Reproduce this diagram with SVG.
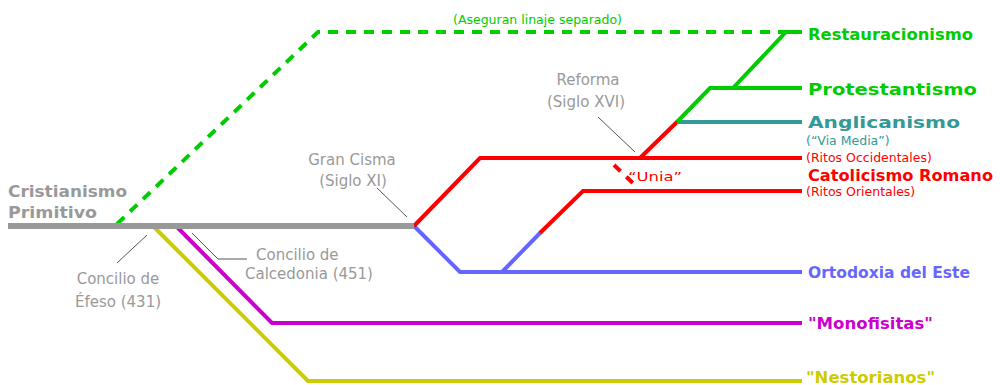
<svg xmlns="http://www.w3.org/2000/svg" width="1000" height="385" viewBox="0 0 1000 385">
<style>
.ln{fill:none;stroke-width:4;stroke-linejoin:miter;stroke-linecap:butt}
.ld{fill:none;stroke:#555;stroke-width:1}
.t{font-family:"DejaVu Sans",Verdana,sans-serif;font-size:15px;fill:#999}
.s{font-family:"DejaVu Sans",Verdana,sans-serif;font-size:12.5px}
.b{font-family:"DejaVu Sans",Verdana,sans-serif;font-size:16px;font-weight:bold}
</style>
<rect width="1000" height="385" fill="#fff"/>
<g id="connectors">
<polyline class="ln" stroke="#00cc00" stroke-dasharray="10,8" points="117,224 318,32 786,32"/>
<polyline class="ln" stroke="#cccc00" points="153,226 308,381 802,381"/>
<polyline class="ln" stroke="#cc00cc" points="176,226 272,323 802,323"/>
<polyline class="ln" stroke="#6666ff" points="414,226 460,272 802,272"/>
<polyline class="ln" stroke="#6666ff" points="502,272 541,232"/>
<polyline class="ln" stroke="#ff0000" points="540,233 583,191 802,191"/>
<polyline class="ln" stroke="#ff0000" points="414,226 480,158 802,158"/>
<polyline class="ln" stroke="#ff0000" points="640,158 678,121"/>
<polyline class="ln" stroke="#339999" points="677,122 802,122"/>
<polyline class="ln" stroke="#00cc00" points="677,122 710,88 802,88"/>
<polyline class="ln" stroke="#00cc00" points="733,88 786,32 802,32"/>
<line x1="8" y1="226" x2="414" y2="226" stroke="#999999" stroke-width="6"/>
<line class="ln" stroke="#ff0000" stroke-width="3" stroke-dasharray="9,8" x1="614" y1="165" x2="637" y2="187"/>
<line class="ld" x1="598" y1="117" x2="635" y2="152"/>
<line class="ld" x1="377" y1="188" x2="407" y2="217"/>
<line class="ld" x1="147" y1="235" x2="117" y2="263"/>
<polyline class="ld" points="192,233 218,259 247,259"/>
</g>
<g id="cristianismo"><text class="b" x="8" y="197" fill="#999" font-size="17" textLength="119" lengthAdjust="spacingAndGlyphs">Cristianismo</text><text class="b" x="8" y="218" fill="#999" font-size="17" textLength="89" lengthAdjust="spacingAndGlyphs">Primitivo</text></g>
<g id="efeso"><text class="t" x="118" y="284" text-anchor="middle">Concilio de</text><text class="t" x="118" y="307" text-anchor="middle">Éfeso (431)</text></g>
<g id="calcedonia"><text class="t" x="256" y="260">Concilio de</text><text class="t" x="245" y="279">Calcedonia (451)</text></g>
<g id="gran-cisma"><text class="t" x="352" y="165" text-anchor="middle">Gran Cisma</text><text class="t" x="353" y="186" text-anchor="middle">(Siglo XI)</text></g>
<g id="reforma"><text class="t" x="588" y="85" text-anchor="middle">Reforma</text><text class="t" x="586" y="107" text-anchor="middle">(Siglo XVI)</text></g>
<g id="linaje"><text class="s" x="453" y="24" fill="#00cc00" textLength="169">(Aseguran linaje separado)</text></g>
<g id="unia"><text class="s" x="628" y="181" fill="#ff0000" font-size="15" textLength="54" lengthAdjust="spacingAndGlyphs">“Unia”</text></g>
<g id="restauracionismo"><text class="b" x="808" y="40" fill="#00cc00" textLength="165" lengthAdjust="spacingAndGlyphs">Restauracionismo</text></g>
<g id="protestantismo"><text class="b" x="808" y="95" fill="#00cc00" textLength="169" lengthAdjust="spacingAndGlyphs">Protestantismo</text></g>
<g id="anglicanismo"><text class="b" x="808" y="128" fill="#339999" textLength="152" lengthAdjust="spacingAndGlyphs">Anglicanismo</text><text class="s" x="806" y="145" fill="#339999">(“Via Media”)</text></g>
<g id="catolicismo"><text class="s" x="806" y="162" fill="#ff0000">(Ritos Occidentales)</text><text class="b" x="808" y="181" fill="#ff0000" font-size="17.5" textLength="185" lengthAdjust="spacingAndGlyphs">Catolicismo Romano</text><text class="s" x="806" y="196" fill="#ff0000">(Ritos Orientales)</text></g>
<g id="ortodoxia"><text class="b" x="808" y="278" fill="#6666ff" textLength="162" lengthAdjust="spacingAndGlyphs">Ortodoxia del Este</text></g>
<g id="monofisitas"><text class="b" x="808" y="329" fill="#cc00cc" textLength="125" lengthAdjust="spacingAndGlyphs">"Monofisitas"</text></g>
<g id="nestorianos"><text class="b" x="806" y="383" fill="#cccc00" font-size="15.5" textLength="129" lengthAdjust="spacingAndGlyphs">"Nestorianos"</text></g>
</svg>
